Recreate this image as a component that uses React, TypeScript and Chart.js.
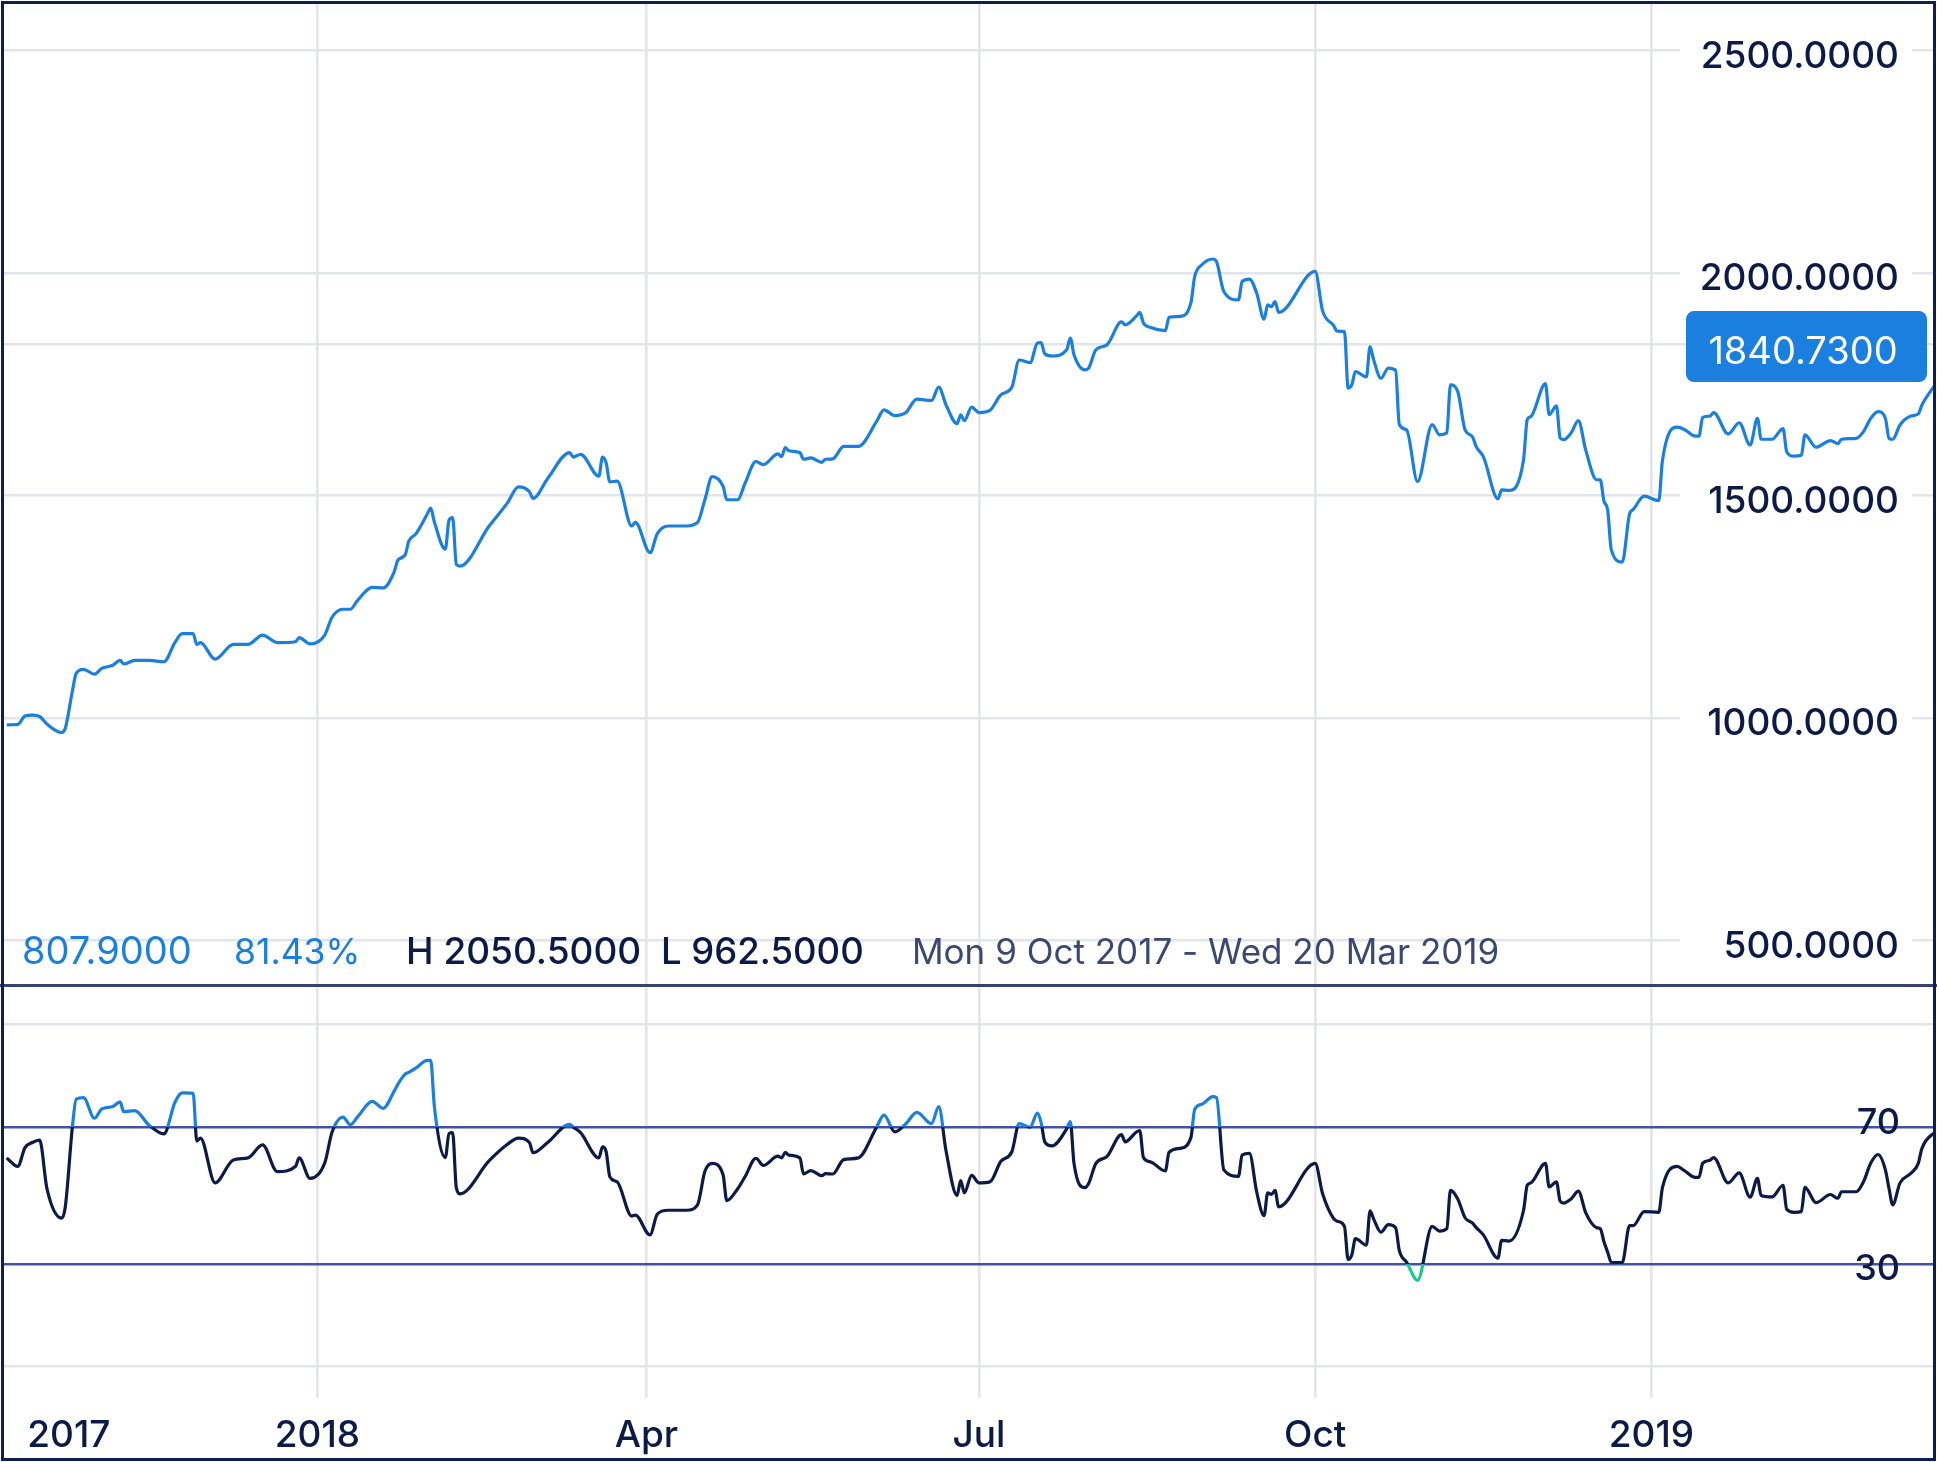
import React, { useEffect, useRef } from "react";
import { Chart, registerables } from "chart.js";

Chart.register(...registerables);

// ---------------- data ----------------
// x = trading-day position in calendar days since Mon 9 Oct 2017
const days = [
  -1, 2, 4, 6, 8, 10, 14, 15, 17, 18, 20, 23, 25, 28, 30, 31, 34, 38, 42, 45,
  47, 50, 51, 52, 56, 61, 65, 69, 73, 78, 79, 82, 86, 88, 91, 93, 95, 99, 102, 105,
  106, 108, 109, 111, 114, 115, 116, 119, 120, 121, 122, 123, 131, 136, 139, 142, 143, 147, 153, 154,
  156, 161, 162, 163, 164, 166, 170, 171, 175, 177, 180, 185, 188, 190, 192, 195, 196, 199, 201, 204,
  206, 210, 211, 212, 213, 216, 217, 219, 222, 223, 225, 228, 232, 237, 239, 242, 245, 248, 252, 254,
  256, 259, 260, 261, 263, 265, 268, 271, 274, 276, 279, 281, 282, 283, 285, 289, 290, 291, 294, 295,
  297, 300, 304, 305, 308, 309, 310, 312, 316, 317, 320, 323, 324, 326, 329, 330, 332, 336, 337, 339,
  341, 343, 344, 345, 346, 347, 357, 359, 362, 363, 365, 366, 367, 368, 371, 372, 373, 375, 377, 379,
  380, 382, 385, 389, 391, 393, 394, 396, 398, 400, 401, 403, 407, 408, 410, 414, 415, 416, 420, 421,
  423, 424, 425, 427, 429, 431, 434, 435, 436, 437, 438, 441, 443, 444, 447, 451, 452, 456, 458, 461,
  462, 463, 465, 466, 470, 473, 476, 478, 479, 482, 485, 486, 488, 490, 491, 494, 498, 500, 501, 505,
  507, 509, 511, 513, 514, 515, 517, 520, 522, 523, 527,
];

const prices = [
  985, 986, 1005, 1007, 1004, 987, 968, 977, 1063, 1101, 1110, 1099, 1112, 1119, 1130, 1122, 1130, 1130, 1127, 1170,
  1190, 1190, 1166, 1170, 1133, 1166, 1166, 1187, 1170, 1172, 1181, 1167, 1187, 1227, 1245, 1245, 1265, 1294, 1293, 1329,
  1355, 1367, 1398, 1415, 1458, 1472, 1441, 1380, 1445, 1451, 1346, 1342, 1432, 1484, 1520, 1509, 1494, 1539, 1597, 1587,
  1593, 1544, 1587, 1574, 1531, 1533, 1432, 1440, 1372, 1415, 1432, 1432, 1440, 1491, 1543, 1521, 1491, 1491, 1528, 1577,
  1570, 1594, 1588, 1608, 1601, 1597, 1582, 1585, 1575, 1582, 1583, 1611, 1611, 1667, 1693, 1680, 1687, 1717, 1714, 1744,
  1704, 1662, 1682, 1669, 1699, 1687, 1692, 1727, 1744, 1805, 1799, 1843, 1844, 1819, 1814, 1828, 1854, 1817, 1783, 1787,
  1828, 1839, 1891, 1884, 1903, 1912, 1888, 1878, 1871, 1901, 1903, 1934, 1992, 2019, 2032, 2026, 1959, 1940, 1981, 1987,
  1955, 1897, 1929, 1925, 1936, 1912, 2004, 1916, 1883, 1870, 1869, 1742, 1749, 1779, 1767, 1835, 1805, 1764, 1787, 1782,
  1660, 1648, 1532, 1660, 1637, 1641, 1749, 1734, 1648, 1633, 1611, 1588, 1493, 1513, 1512, 1581, 1671, 1678, 1752, 1682,
  1702, 1630, 1626, 1641, 1669, 1603, 1536, 1536, 1488, 1469, 1379, 1351, 1459, 1469, 1499, 1489, 1579, 1654, 1649, 1634,
  1634, 1676, 1679, 1687, 1639, 1664, 1614, 1674, 1627, 1627, 1651, 1599, 1589, 1591, 1637, 1609, 1624, 1617, 1627, 1629,
  1644, 1674, 1689, 1674, 1629, 1627, 1659, 1679, 1684, 1704, 1754,
];

const rsiValues = [
  61, 58.5, 64, 65.5, 66.2, 52, 43.4, 46.5, 70.5, 78.2, 78.6, 72.6, 75.3, 76, 77.4, 74.5, 74.8, 70.5, 68, 77.2,
  80, 79.9, 65.9, 66.8, 53.7, 60.4, 61, 64.8, 57, 58.5, 61, 55, 59.5, 68.5, 72.9, 70.7, 73, 77.5, 75.5, 80.5,
  82.5, 85.5, 86, 87.3, 89.5, 89.5, 76, 61.1, 68.1, 68.4, 52.3, 50.5, 60.2, 65, 66.8, 65.5, 62.5, 65.5, 70.8, 70,
  68.4, 61, 64.2, 62.8, 55.5, 54, 44, 44.3, 38.5, 44.6, 45.7, 45.7, 47.3, 57, 59.4, 56, 48.5, 52, 55.5, 60.9,
  58.8, 61.5, 61, 62.6, 61.8, 61, 56.3, 57.3, 55.8, 56.4, 56.3, 60.5, 61, 70, 73.5, 68.6, 71, 74.3, 71, 76,
  63, 50, 54.4, 50.8, 55.9, 53.7, 54, 60, 62.8, 71, 70, 74.1, 71.4, 65.7, 64.5, 69.5, 71.6, 59.4, 52.3, 53.5,
  59.4, 61.4, 67.8, 65.7, 68.5, 69, 61.1, 59.8, 57.2, 62.6, 63.8, 67, 75.1, 76.7, 78.9, 78.6, 57.5, 55.6, 61.8, 62.3,
  51, 44.1, 50.8, 50.3, 51.5, 46.7, 59.4, 50.6, 43.3, 42.5, 41, 31.3, 32.6, 37.4, 35.5, 45.5, 43.1, 39.3, 41.5, 40.6,
  34, 30.5, 25.2, 41, 39.6, 40.3, 51.5, 49, 43.5, 42, 40.7, 38.5, 31.7, 36.9, 36.7, 45.7, 53, 53.7, 59.4, 52.5,
  54, 48.4, 47.8, 49, 51.3, 45, 40.6, 40.3, 36.5, 33.5, 30.5, 30.4, 41.2, 41.2, 45.3, 45.1, 52.3, 58.5, 57.3, 55.3,
  55.3, 59.4, 60.3, 61.1, 53.7, 56.6, 49.5, 55, 50, 49.6, 53, 46, 45.1, 45.3, 52.4, 47.9, 50.3, 49.2, 51.1, 51.1,
  54, 59.5, 62, 57.5, 52, 47.3, 53.7, 56.5, 59.4, 63.8, 69,
];

const priceTicks = [500, 1000, 1500, 2000, 2500];
const lastPrice = 1840.73;
const rsiBands = [30, 70];
const rsiFrame = [0, 100];

const startDate = "2017-10-09";
const xGridDates = ["2018-01-01", "2018-04-01", "2018-07-01", "2018-10-01", "2019-01-01"];
const xLabelDates = ["2017-10-25", "2018-01-01", "2018-04-01", "2018-07-01", "2018-10-01", "2019-01-01"];
const xLabels = ["2017", "2018", "Apr", "Jul", "Oct", "2019"];

const openText = "807.9000";
const changeText = "81.43%";
const highText = "H 2050.5000";
const lowText = "L 962.5000";
const rangeText = "Mon 9 Oct 2017 - Wed 20 Mar 2019";

// ---------------- styling ----------------
const BLUE = "#1a7fde";
const NAVY = "#0b1a47";
const SLATE = "#3a4872";
const GRID = "#e3e5e9";
const BAND = "#4451a6";
const GREEN = "#19c98d";
const BORDER = "#0c1f4f";
const SEP = "#36426f";
const FONT = "Inter, 'Noto Sans', sans-serif";
const LINE_W = 3.2;

const W = 1937;
const MAIN_H = 986;
const RSI_H = 476;
const X_MIN = -1.75;
const X_MAX = 526.3;

const dayIndex = (iso: string) =>
  Math.round((Date.parse(iso) - Date.parse(startDate)) / 86400000);

const xGridDays = xGridDates.map(dayIndex);

const mainOverlay = {
  id: "mainOverlay",
  afterDraw(chart: any) {
    const ctx: CanvasRenderingContext2D = chart.ctx;
    const y = chart.scales.y;
    ctx.save();
    // y-axis labels with white backdrops
    ctx.font = `500 37px ${FONT}`;
    ctx.textAlign = "right";
    ctx.textBaseline = "middle";
    for (const v of priceTicks) {
      const py = y.getPixelForValue(v);
      ctx.fillStyle = "#ffffff";
      ctx.fillRect(1680, py - 20, 232, 48);
      ctx.fillStyle = NAVY;
      ctx.fillText(v.toFixed(4), 1899, py + 6);
    }
    // last price badge
    const py = y.getPixelForValue(lastPrice);
    ctx.fillStyle = BLUE;
    ctx.beginPath();
    (ctx as any).roundRect(1686, py - 33, 241, 71, 8);
    ctx.fill();
    ctx.fillStyle = "#ffffff";
    ctx.font = `400 38px ${FONT}`;
    ctx.textAlign = "center";
    ctx.fillText(lastPrice.toFixed(4), 1803, py + 8);
    // info row
    ctx.textAlign = "left";
    const rowY = 953;
    const items: [string, number, string, number, number][] = [
      [openText, 22, BLUE, 400, 38],
      [changeText, 234, BLUE, 400, 35.5],
      [highText, 406, NAVY, 500, 37],
      [lowText, 661, NAVY, 500, 36.5],
      [rangeText, 912, SLATE, 400, 35],
    ];
    for (const [t, x, c, w, s] of items) {
      ctx.font = `${w} ${s}px ${FONT}`;
      ctx.fillStyle = c;
      ctx.fillText(t, x, rowY);
    }
    ctx.restore();
  },
};

const bandClip = {
  id: "bandClip",
  beforeDatasetDraw(chart: any, args: any) {
    const { ctx, chartArea, scales } = chart;
    const y70 = scales.y.getPixelForValue(rsiBands[1]);
    const y30 = scales.y.getPixelForValue(rsiBands[0]);
    const bands = [
      [y70, y30],
      [chartArea.top - 20, y70],
      [y30, chartArea.bottom + 20],
    ];
    const [t, b] = bands[args.index];
    ctx.save();
    ctx.beginPath();
    ctx.rect(chartArea.left - 20, t, chartArea.right - chartArea.left + 40, b - t);
    ctx.clip();
  },
  afterDatasetDraw(chart: any) {
    chart.ctx.restore();
  },
};

const rsiOverlay = {
  id: "rsiOverlay",
  afterDraw(chart: any) {
    const ctx: CanvasRenderingContext2D = chart.ctx;
    const { x, y } = chart.scales;
    ctx.save();
    ctx.fillStyle = NAVY;
    ctx.font = `500 36px ${FONT}`;
    ctx.textAlign = "right";
    ctx.textBaseline = "middle";
    ctx.fillText(String(rsiBands[1]), 1900, y.getPixelForValue(rsiBands[1]) - 4);
    ctx.fillText(String(rsiBands[0]), 1900, y.getPixelForValue(rsiBands[0]) + 5);
    ctx.font = `500 37px ${FONT}`;
    ctx.textAlign = "center";
    xLabels.forEach((lab, i) => {
      ctx.fillText(lab, x.getPixelForValue(dayIndex(xLabelDates[i])), 450);
    });
    ctx.restore();
  },
};

const baseX = {
  type: "linear" as const,
  min: X_MIN,
  max: X_MAX,
  afterBuildTicks: (s: any) => {
    s.ticks = xGridDays.map((v) => ({ value: v }));
  },
  ticks: { display: false },
  grid: { color: GRID, lineWidth: 2.6, drawTicks: false },
  border: { display: false },
};

export default function App() {
  const mainRef = useRef<HTMLCanvasElement>(null);
  const rsiRef = useRef<HTMLCanvasElement>(null);

  useEffect(() => {
    const points = days.map((d, i) => ({ x: d, y: prices[i] }));
    const rsiPts = days.map((d, i) => ({ x: d, y: rsiValues[i] }));

    const main = new Chart(mainRef.current as HTMLCanvasElement, {
      type: "line",
      data: {
        datasets: [
          {
            data: points,
            borderColor: BLUE,
            borderWidth: LINE_W,
            pointRadius: 0,
            cubicInterpolationMode: "monotone",
            fill: false,
          },
        ],
      },
      options: {
        responsive: false,
        animation: false,
        events: [],
        layout: { padding: { left: 4, right: 3, top: 4, bottom: 1 } },
        plugins: { legend: { display: false }, tooltip: { enabled: false } },
        scales: {
          x: baseX as any,
          y: {
            type: "linear",
            position: "right",
            min: 402,
            max: 2605,
            afterBuildTicks: (s: any) => {
              s.ticks = [...priceTicks, lastPrice].map((v) => ({ value: v }));
            },
            ticks: { display: false },
            grid: { color: GRID, lineWidth: 2.6, drawTicks: false },
            border: { display: false },
          },
        },
      },
      plugins: [mainOverlay],
    });

    const rsi = new Chart(rsiRef.current as HTMLCanvasElement, {
      type: "line",
      data: {
        datasets: [NAVY, BLUE, GREEN].map((c) => ({
          data: rsiPts,
          borderColor: c,
          borderWidth: LINE_W,
          pointRadius: 0,
          cubicInterpolationMode: "monotone" as const,
          fill: false,
        })),
      },
      options: {
        responsive: false,
        animation: false,
        events: [],
        layout: { padding: { left: 4, right: 3, top: 0, bottom: 64 } },
        plugins: { legend: { display: false }, tooltip: { enabled: false } },
        scales: {
          x: baseX as any,
          y: {
            type: "linear",
            position: "right",
            min: -9.17,
            max: 110.77,
            afterBuildTicks: (s: any) => {
              s.ticks = [...rsiFrame, ...rsiBands].map((v) => ({ value: v }));
            },
            ticks: { display: false },
            grid: {
              color: (c: any) => (rsiBands.includes(c.tick?.value) ? BAND : GRID),
              lineWidth: 2.6,
              drawTicks: false,
            },
            border: { display: false },
          },
        },
      },
      plugins: [bandClip, rsiOverlay],
    });

    let alive = true;
    if ((document as any).fonts?.ready) {
      (document as any).fonts.ready.then(() => {
        if (alive) {
          main.update();
          rsi.update();
        }
      });
    }
    return () => {
      alive = false;
      main.destroy();
      rsi.destroy();
    };
  }, []);

  return (
    <div
      style={{
        position: "absolute",
        left: 0,
        top: 0,
        width: W,
        height: MAIN_H + RSI_H,
        background: "#ffffff",
        overflow: "hidden",
      }}
    >
      <canvas
        ref={mainRef}
        width={W}
        height={MAIN_H}
        style={{ position: "absolute", left: 0, top: 0, width: W, height: MAIN_H }}
      />
      <canvas
        ref={rsiRef}
        width={W}
        height={RSI_H}
        style={{ position: "absolute", left: 0, top: MAIN_H, width: W, height: RSI_H }}
      />
      <div
        style={{
          position: "absolute",
          left: 0,
          top: 984,
          width: W,
          height: 3,
          background: SEP,
        }}
      />
      <div
        style={{
          position: "absolute",
          left: 1,
          top: 1,
          width: 1935,
          height: 1460,
          boxSizing: "border-box",
          border: `3px solid ${BORDER}`,
          pointerEvents: "none",
        }}
      />
    </div>
  );
}
